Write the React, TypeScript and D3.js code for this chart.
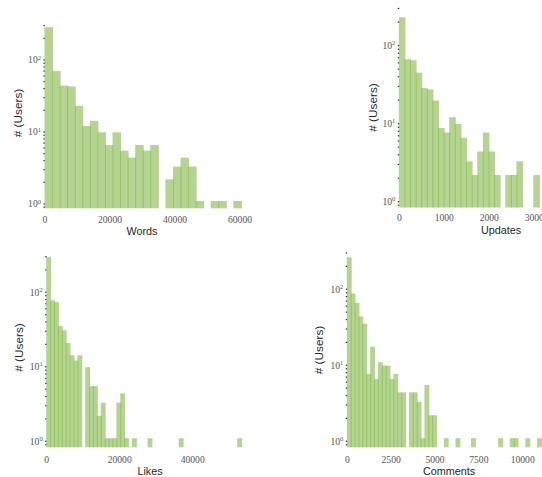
import React from 'react';
import * as d3 from 'd3';

const W = 542;
const H = 477;

// histogram heights per bin (weighted counts), 0 = empty bin
const wordsCounts = [286, 70.4, 44, 42.9, 23.1, 12.1, 14.3, 9.9, 6.6, 9.9, 5.5, 4.4, 6.6, 5.5, 6.6, 0, 2.2, 3.3, 4.4, 3.3, 1.1, 0, 1.1, 1.1, 0, 1.1];
const wordsBinWidth = 2325;
const wordsTicks = [0, 20000, 40000, 60000];

const updatesCounts = [231, 67.1, 64.9, 45.1, 28.6, 27.5, 19.8, 8.8, 7.7, 12.1, 9.9, 6.6, 3.3, 2.2, 4.4, 7.7, 4.4, 2.2, 0, 2.2, 2.2, 3.3, 0, 0, 2.2];
const updatesBinWidth = 124.5;
const updatesTicks = [0, 1000, 2000, 3000];

const likesCounts = [297, 78.1, 73.7, 35.2, 30.8, 20.9, 14.3, 12.1, 14.3, 0, 9.9, 5.5, 5.5, 2.2, 3.3, 1.1, 1.1, 1.1, 3.3, 4.4,
  1.1, 0, 1.1, 0, 0, 0, 1.1, 0, 0, 0, 0, 0, 0, 0, 1.1, 0, 0, 0, 0, 0, 0, 0, 0, 0, 0, 0, 0, 0, 0, 1.1];
const likesBinWidth = 1068;
const likesTicks = [0, 20000, 40000];

const commentsCounts = [264, 88, 66, 44, 35.2, 7.7, 17.6, 6.6, 11, 9.9, 9.9, 6.6, 7.7, 4.4, 4.4, 0, 4.4, 4.4, 3.3, 1.1,
  5.5, 2.2, 2.2, 0, 0, 1.1, 0, 0, 1.1, 0, 0, 0, 1.1, 0, 0, 0, 0, 0, 0, 1.1, 0, 0, 1.1, 1.1, 0, 0, 1.1, 0, 0, 1.1];
const commentsBinWidth = 221.3;
const commentsTicks = [0, 2500, 5000, 7500, 10000];

const yLabel = '# (Users)';

const panels = [
  { counts: wordsCounts, binWidth: wordsBinWidth, ticks: wordsTicks, label: 'Words',
    xRef: 60000, x0: 45, x1: 240, labelX: 142, low: 0.871, high: 383, bottom: 208.3, top: 18,
    tickBase: 222.7, labelBase: 235, yLabelX: 21.5, yLabelY: 113 },
  { counts: updatesCounts, binWidth: updatesBinWidth, ticks: updatesTicks, label: 'Updates',
    xRef: 3000, x0: 399.3, x1: 534.3, labelX: 501, low: 0.843, high: 352, bottom: 207.5, top: 3,
    tickBase: 220.7, labelBase: 233.5, yLabelX: 376.5, yLabelY: 107.5 },
  { counts: likesCounts, binWidth: likesBinWidth, ticks: likesTicks, label: 'Likes',
    xRef: 40000, x0: 46.7, x1: 192.7, labelX: 150, low: 0.831, high: 381, bottom: 447.3, top: 249,
    tickBase: 462.7, labelBase: 475, yLabelX: 22.5, yLabelY: 347.5 },
  { counts: commentsCounts, binWidth: commentsBinWidth, ticks: commentsTicks, label: 'Comments',
    xRef: 10000, x0: 347.3, x1: 522.7, labelX: 449, low: 0.834, high: 371, bottom: 447.3, top: 246,
    tickBase: 462.5, labelBase: 475, yLabelX: 322.5, yLabelY: 350 },
];

const barColor = 'rgb(128,181,67)';
const serif = "'Liberation Serif', 'DejaVu Serif', serif";
const sans = "'Liberation Sans', Arial, sans-serif";

function Panel({ p }: { p: any }) {
  const x = d3.scaleLinear().domain([0, p.xRef]).range([p.x0, p.x1]);
  const y = d3.scaleLog().domain([p.low, p.high]).range([p.bottom, p.top]);
  const yTicks = y.ticks();
  const isMajor = (t: number) => Math.abs(Math.log10(t) - Math.round(Math.log10(t))) < 1e-9;

  return (
    <g>
      {yTicks.map((t, i) => (
        <rect key={'t' + i} x={p.x0 - 1.5} y={y(t) - 0.6} width={1.4} height={1.2} fill="#222" />
      ))}
      {p.counts.map((v: number, i: number) => {
        if (!v) return null;
        const xa = x(i * p.binWidth);
        const xb = x((i + 1) * p.binWidth);
        return (
          <rect key={'b' + i} x={xa - 0.5} width={xb - xa + 1} y={y(v)} height={y(p.low) - y(v)}
            fill={barColor} fillOpacity={0.58} />
        );
      })}
      {yTicks.filter(isMajor).map((t, i) => (
        <text key={'yl' + i} x={p.x0 - 4} y={y(t) + 3.3} textAnchor="end" fontFamily={serif}
          fontSize={9.6} fill="#555">
          10<tspan dy={-3.6} fontSize={6.6}>{Math.round(Math.log10(t))}</tspan>
        </text>
      ))}
      {p.ticks.map((t: number, i: number) => (
        <text key={'xl' + i} x={x(t)} y={p.tickBase} textAnchor="middle" fontFamily={serif}
          fontSize={9.6} fill="#555">{t}</text>
      ))}
      <text x={p.labelX} y={p.labelBase} textAnchor="middle" fontFamily={sans} fontSize={10.8} fill="#262626">
        {p.label}
      </text>
      <text transform={`translate(${p.yLabelX},${p.yLabelY}) rotate(-90)`} textAnchor="middle"
        fontFamily={sans} fontSize={11.8} fill="#262626">{yLabel}</text>
    </g>
  );
}

export default function App() {
  return (
    <svg width={W} height={H} style={{ position: 'absolute', left: 0, top: 0, background: '#fff' }}>
      {panels.map((p, i) => <Panel key={i} p={p} />)}
    </svg>
  );
}
